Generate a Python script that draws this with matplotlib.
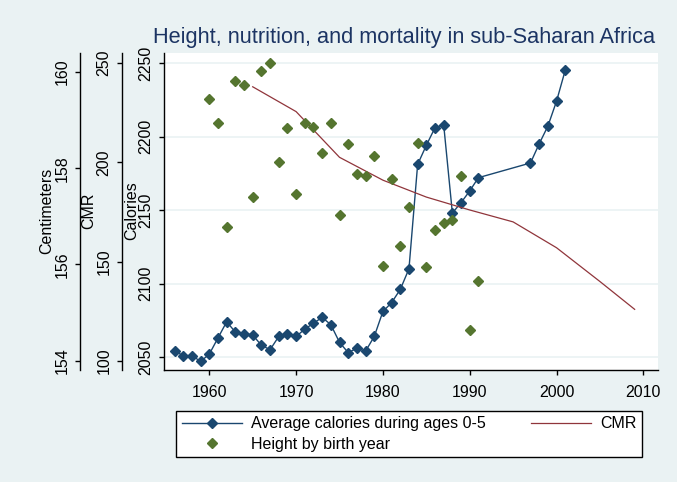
import matplotlib
matplotlib.use("Agg")
import matplotlib.pyplot as plt
from matplotlib.lines import Line2D

plt.rcParams['font.family'] = ['Liberation Sans', 'DejaVu Sans']

# ---- data ----
cal_years = [1956, 1957, 1958, 1959, 1960, 1961, 1962, 1963, 1964, 1965,
             1966, 1967, 1968, 1969, 1970, 1971, 1972, 1973, 1974, 1975,
             1976, 1977, 1978, 1979, 1980, 1981, 1982, 1983, 1984, 1985,
             1986, 1987, 1988, 1989, 1990, 1991, 1997, 1998, 1999, 2000, 2001]
calories = [2054, 2051, 2051, 2047, 2052, 2063, 2074, 2067, 2066, 2065,
            2058, 2055, 2064, 2066, 2064, 2069, 2073, 2077, 2072, 2060,
            2053, 2056, 2054, 2064, 2081, 2087, 2096, 2110, 2181, 2194,
            2206, 2208, 2148, 2155, 2163, 2172, 2182, 2195, 2207, 2224, 2245]

cmr_years = [1965, 1970, 1975, 1980, 1985, 1990, 1995, 2000, 2005, 2009]
cmr = [238, 225.5, 202.5, 191, 182.5, 176, 170, 157, 140, 126]

h_years = [1960, 1961, 1962, 1963, 1964, 1965, 1966, 1967, 1968, 1969,
           1970, 1971, 1972, 1973, 1974, 1975, 1976, 1977, 1978, 1979,
           1980, 1981, 1982, 1983, 1984, 1985, 1986, 1987, 1988, 1989,
           1990, 1991]
height = [159.43, 158.93, 156.78, 159.80, 159.72, 157.41, 160.02, 160.19, 158.13, 158.84,
          157.46, 158.93, 158.86, 158.31, 158.93, 157.03, 158.50, 157.88, 157.83, 158.26,
          155.96, 157.77, 156.39, 157.20, 158.53, 155.94, 156.72, 156.87, 156.93, 157.83,
          154.64, 155.66]

x_ticks = [1960, 1970, 1980, 1990, 2000, 2010]
cal_ticks = [2050, 2100, 2150, 2200, 2250]
cmr_ticks = [100, 150, 200, 250]
h_ticks = [154, 156, 158, 160]

title = "Height, nutrition, and mortality in sub-Saharan Africa"
labels = ["Average calories during ages 0-5", "Height by birth year", "CMR"]

# ---- style ----
BG = '#eaf2f3'
NAVY = '#1a476f'
MAROON = '#90353b'
GREEN = '#55752f'
FS = 11.5
MS = 5.6
W, H = 677, 482

fig = plt.figure(figsize=(W / 100, H / 100), dpi=100)
fig.patch.set_facecolor(BG)

L, R, T, B = 164, 658, 53, 370
ax = fig.add_axes([L / W, 1 - B / H, (R - L) / W, (B - T) / H])
ax.set_facecolor('white')
ax_cmr = ax.twinx()
ax_h = ax.twinx()

ax.plot(cal_years, calories, color=NAVY, lw=1.0, marker='D', ms=MS,
        mec=NAVY, mfc=NAVY, zorder=3)
ax_cmr.plot(cmr_years, cmr, color=MAROON, lw=0.9)
ax_h.plot(h_years, height, ls='none', marker='D', ms=MS, color=GREEN)

ax.set_xlim(1954.78, 2011.69)
ax.set_ylim(2041.2, 2256.8)
ax_cmr.set_ylim(95.47, 255.0)
ax_h.set_ylim(153.81, 160.39)

ax.set_xticks(x_ticks)
ax.set_yticks(cal_ticks)
ax_cmr.set_yticks(cmr_ticks)
ax_h.set_yticks(h_ticks)

ax.set_axisbelow(True)
ax.yaxis.grid(True, color=BG, lw=1.2)

for a, off in ((ax, 0), (ax_cmr, 42 * 0.72), (ax_h, 84 * 0.72)):
    for s in ('top', 'right'):
        a.spines[s].set_visible(False)
    a.spines['left'].set_visible(True)
    a.spines['left'].set_color('black')
    a.spines['left'].set_linewidth(1.0)
    if off:
        a.spines['left'].set_position(('outward', off))
        a.spines['bottom'].set_visible(False)
    a.yaxis.set_ticks_position('left')
    a.yaxis.set_label_position('left')
    a.tick_params(axis='y', which='both', direction='out', length=3.6, width=1.0,
                  labelsize=FS, labelrotation=90, pad=4, labelleft=True, labelright=False,
                  right=False, left=True)

ax.spines['bottom'].set_color('black')
ax.spines['bottom'].set_linewidth(1.0)
ax.tick_params(axis='x', direction='out', length=3.6, width=1.0, labelsize=FS, pad=7)

for lab in ax.get_yticklabels() + ax_cmr.get_yticklabels() + ax_h.get_yticklabels():
    lab.set_va('center')

# axis titles (overlapping like the original)
fig.text(47 / W, 1 - 211 / H, "Centimeters", rotation=90, ha='center', va='center', fontsize=FS)
fig.text(89 / W, 1 - 211 / H, "CMR", rotation=90, ha='center', va='center', fontsize=FS)
fig.text(132 / W, 1 - 211 / H, "Calories", rotation=90, ha='center', va='center', fontsize=FS)

fig.text(404.5 / W, 1 - 37 / H, title, ha='center', va='center', fontsize=15.7, color='#1c3463')

handles = [Line2D([], [], color=NAVY, lw=1.0, marker='D', ms=MS),
           Line2D([], [], ls='none', marker='D', ms=MS, color=GREEN),
           Line2D([], [], color=MAROON, lw=0.9)]
leg = fig.legend(handles, labels, ncol=2, loc='center',
                 bbox_to_anchor=(409 / W, 1 - 434 / H), fontsize=FS,
                 frameon=True, fancybox=False, edgecolor='black', facecolor='white',
                 framealpha=1, handlelength=3.8, handletextpad=0.55, columnspacing=2.8,
                 labelspacing=0.35, borderpad=0.35, numpoints=1)
leg.get_frame().set_linewidth(1.0)

fig.savefig('out.png', dpi=100, facecolor=BG)
